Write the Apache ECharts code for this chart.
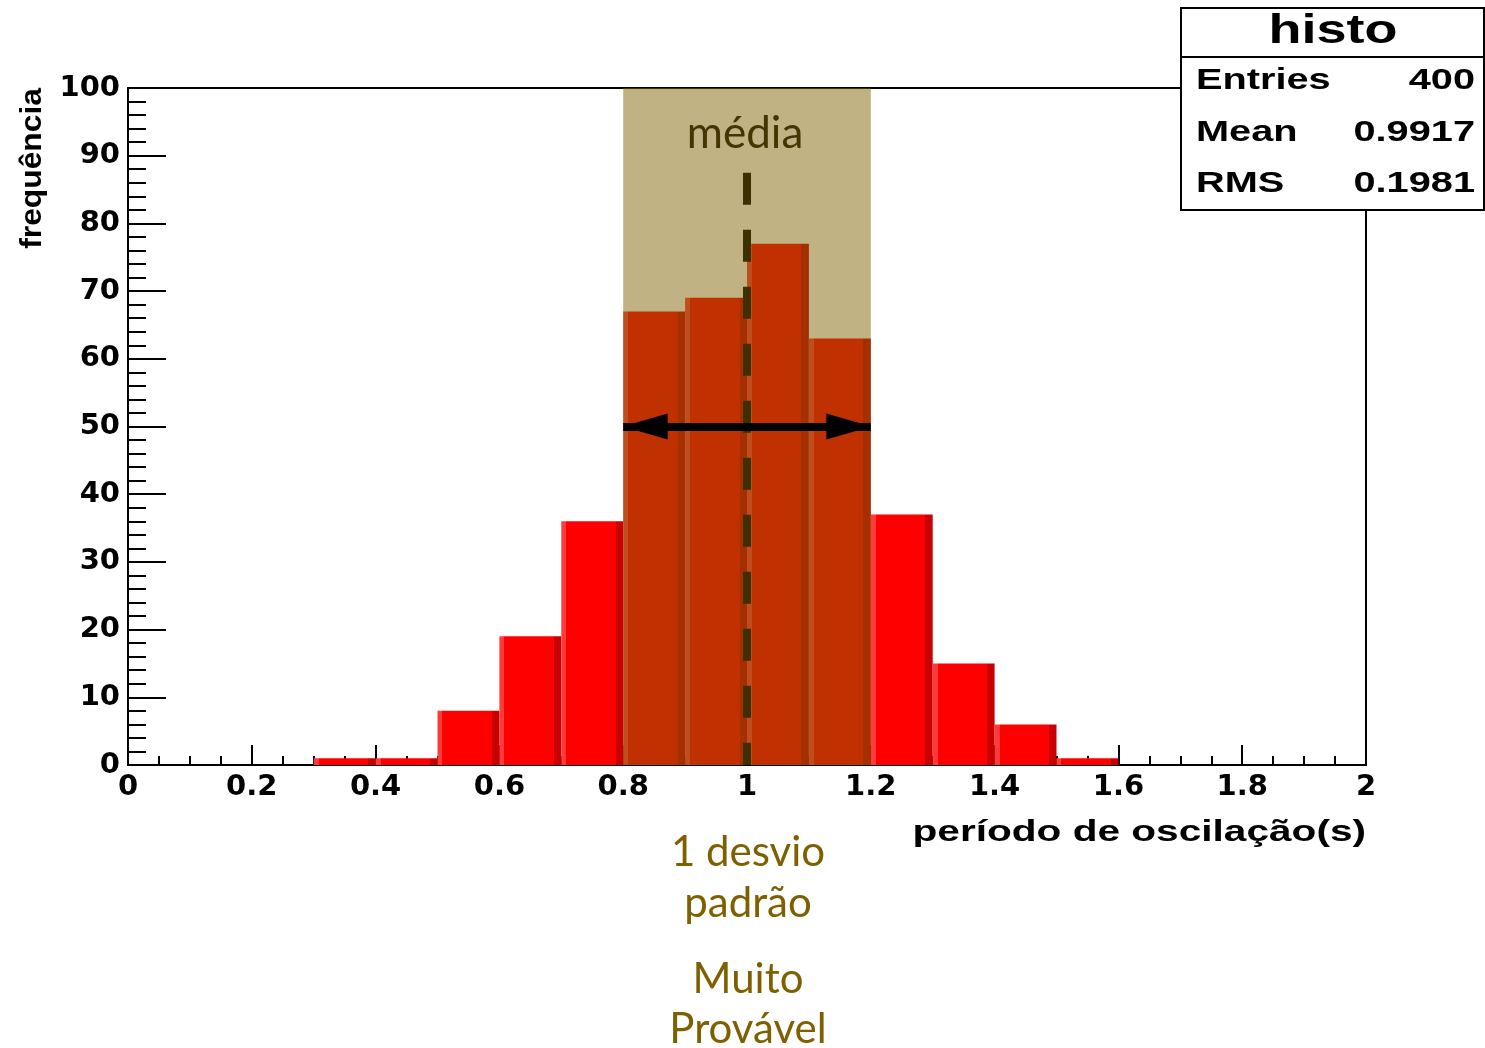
<!DOCTYPE html>
<html><head><meta charset="utf-8">
<script src="https://cdn.jsdelivr.net/npm/echarts@6/dist/echarts.min.js"></script>
<style>html,body{margin:0;padding:0;background:#fff}#c{width:1485px;height:1048px}</style>
</head><body><div id="c"></div>
<script>
// ---- data ----
const binStarts = [0.3, 0.4, 0.5, 0.6, 0.7, 0.8, 0.9, 1.0, 1.1, 1.2, 1.3, 1.4, 1.5];
const binWidth = 0.1;
const counts = [1, 1, 8, 19, 36, 67, 69, 77, 63, 37, 15, 6, 1];
const stats = [["Entries", "400"], ["Mean", "0.9917"], ["RMS", "0.1981"]];
const sigmaBand = [0.8, 1.2];
const meanLine = 1.0;
const arrowLevel = 50;
const xTitle = "período de oscilação(s)";
const yTitle = "frequência";

const chart = echarts.init(document.getElementById('c'));
const barFill = new echarts.graphic.LinearGradient(0, 0, 1, 0, [
  {offset: 0, color: '#ff3a3a'}, {offset: 0.08, color: '#ff3a3a'},
  {offset: 0.08, color: '#ff0000'}, {offset: 0.88, color: '#ff0000'},
  {offset: 0.88, color: '#c80000'}, {offset: 1, color: '#c80000'}
]);
const histData = binStarts.map((s, i) => [s, s + binWidth, counts[i]]);
const bold = {fontFamily: '"Liberation Sans", Arial', fontWeight: 'bold'};
const tickFont = {fontFamily: '"DejaVu Sans"', fontWeight: 'bold'};

const statsChildren = [
  {type: 'rect', shape: {x: 0, y: 0, width: 303, height: 202}, style: {fill: '#fff', stroke: '#000', lineWidth: 2}},
  {type: 'line', shape: {x1: 0, y1: 49, x2: 303, y2: 49}, style: {stroke: '#000', lineWidth: 2}},
  {type: 'text', x: 152, y: 24, scaleX: 1.35, style: {text: 'histo', ...bold, fontSize: 40, fill: '#000', align: 'center', verticalAlign: 'middle'}}
];
stats.forEach((r, i) => {
  statsChildren.push({type: 'text', x: 15, y: 73 + i * 51.5, scaleX: 1.37, style: {text: r[0], ...bold, fontSize: 29, fill: '#000', align: 'left', verticalAlign: 'middle'}});
  statsChildren.push({type: 'text', x: 294, y: 73 + i * 51.5, scaleX: 1.37, style: {text: r[1], ...bold, fontSize: 29, fill: '#000', align: 'right', verticalAlign: 'middle'}});
});

const annoFont = 'Lato, "Open Sans", sans-serif';
chart.setOption({
  animation: false,
  grid: {left: 128, right: 119, top: 88, bottom: 283, show: true, borderColor: '#000', borderWidth: 2},
  xAxis: {
    type: 'value', min: 0, max: 2, interval: 0.2,
    axisLine: {lineStyle: {color: '#000', width: 2}},
    axisTick: {inside: true, length: 20, lineStyle: {color: '#000', width: 2}},
    minorTick: {show: true, splitNumber: 4, length: 9, lineStyle: {color: '#000', width: 2}},
    axisLabel: {color: '#000', fontSize: 29, ...tickFont, margin: 8},
    splitLine: {show: false}
  },
  yAxis: {
    type: 'value', min: 0, max: 100, interval: 10,
    axisLine: {lineStyle: {color: '#000', width: 2}},
    axisTick: {inside: true, length: 38, lineStyle: {color: '#000', width: 2}},
    minorTick: {show: true, splitNumber: 5, length: 18, lineStyle: {color: '#000', width: 2}},
    axisLabel: {color: '#000', fontSize: 29, ...tickFont, margin: 8},
    splitLine: {show: false}
  },
  series: [
    {
      type: 'custom', name: 'histo', z: 2,
      data: histData,
      encode: {x: [0, 1], y: 2},
      renderItem: function (params, api) {
        const p0 = api.coord([api.value(0), api.value(2)]);
        const p1 = api.coord([api.value(1), 0]);
        return {type: 'rect', shape: {x: p0[0], y: p0[1], width: p1[0] - p0[0], height: p1[1] - p0[1]}, style: {fill: barFill}};
      }
    },
    {
      type: 'line', name: 'band', z: 5, data: [], silent: true,
      markArea: {
        silent: true, z: 10,
        itemStyle: {color: 'rgba(126,98,0,0.49)'},
        label: {show: false},
        data: [[{coord: [sigmaBand[0], 0]}, {coord: [sigmaBand[1], 100]}]]
      }
    },
    {
      type: 'line', name: 'mean', z: 6, data: [], silent: true,
      markLine: {
        silent: true, animation: false, z: 12,
        label: {show: false},
        data: [
          [{coord: [meanLine, 87.5], symbol: 'none', lineStyle: {color: '#3d2f00', width: 8, type: [32, 25]}},
           {coord: [meanLine, 0], symbol: 'none'}],
          [{coord: [sigmaBand[0], arrowLevel], symbol: 'triangle', symbolSize: [26, 45], symbolOffset: [0, 22], lineStyle: {color: '#000', width: 8, type: 'solid'}},
           {coord: [sigmaBand[1], arrowLevel], symbol: 'triangle', symbolSize: [26, 45], symbolOffset: [0, 22]}]
        ]
      }
    }
  ],
  graphic: [
    {type: 'text', x: 745, y: 134, z: 100, style: {text: 'média', fontFamily: annoFont, fontSize: 44, fill: '#453500', align: 'center', verticalAlign: 'middle'}},
    {type: 'text', x: 748, y: 852, z: 100, style: {text: '1 desvio', fontFamily: annoFont, fontSize: 42, fill: '#7f6000', align: 'center', verticalAlign: 'middle'}},
    {type: 'text', x: 748, y: 903, z: 100, style: {text: 'padrão', fontFamily: annoFont, fontSize: 42, fill: '#7f6000', align: 'center', verticalAlign: 'middle'}},
    {type: 'text', x: 748, y: 979, z: 100, style: {text: 'Muito', fontFamily: annoFont, fontSize: 42, fill: '#7f6000', align: 'center', verticalAlign: 'middle'}},
    {type: 'text', x: 748, y: 1029, z: 100, style: {text: 'Provável', fontFamily: annoFont, fontSize: 42, fill: '#7f6000', align: 'center', verticalAlign: 'middle'}},
    {type: 'text', x: 1366, y: 833, z: 100, scaleX: 1.4, style: {text: xTitle, ...bold, fontSize: 29, fill: '#000', align: 'right', verticalAlign: 'middle'}},
    {type: 'text', x: 33, y: 88, rotation: Math.PI / 2, scaleX: 1.06, z: 100, style: {text: yTitle, ...bold, fontSize: 30, fill: '#000', align: 'right', verticalAlign: 'middle'}},
    {type: 'group', x: 1181, y: 8, z: 200, children: statsChildren}
  ]
});
</script>
</body></html>
